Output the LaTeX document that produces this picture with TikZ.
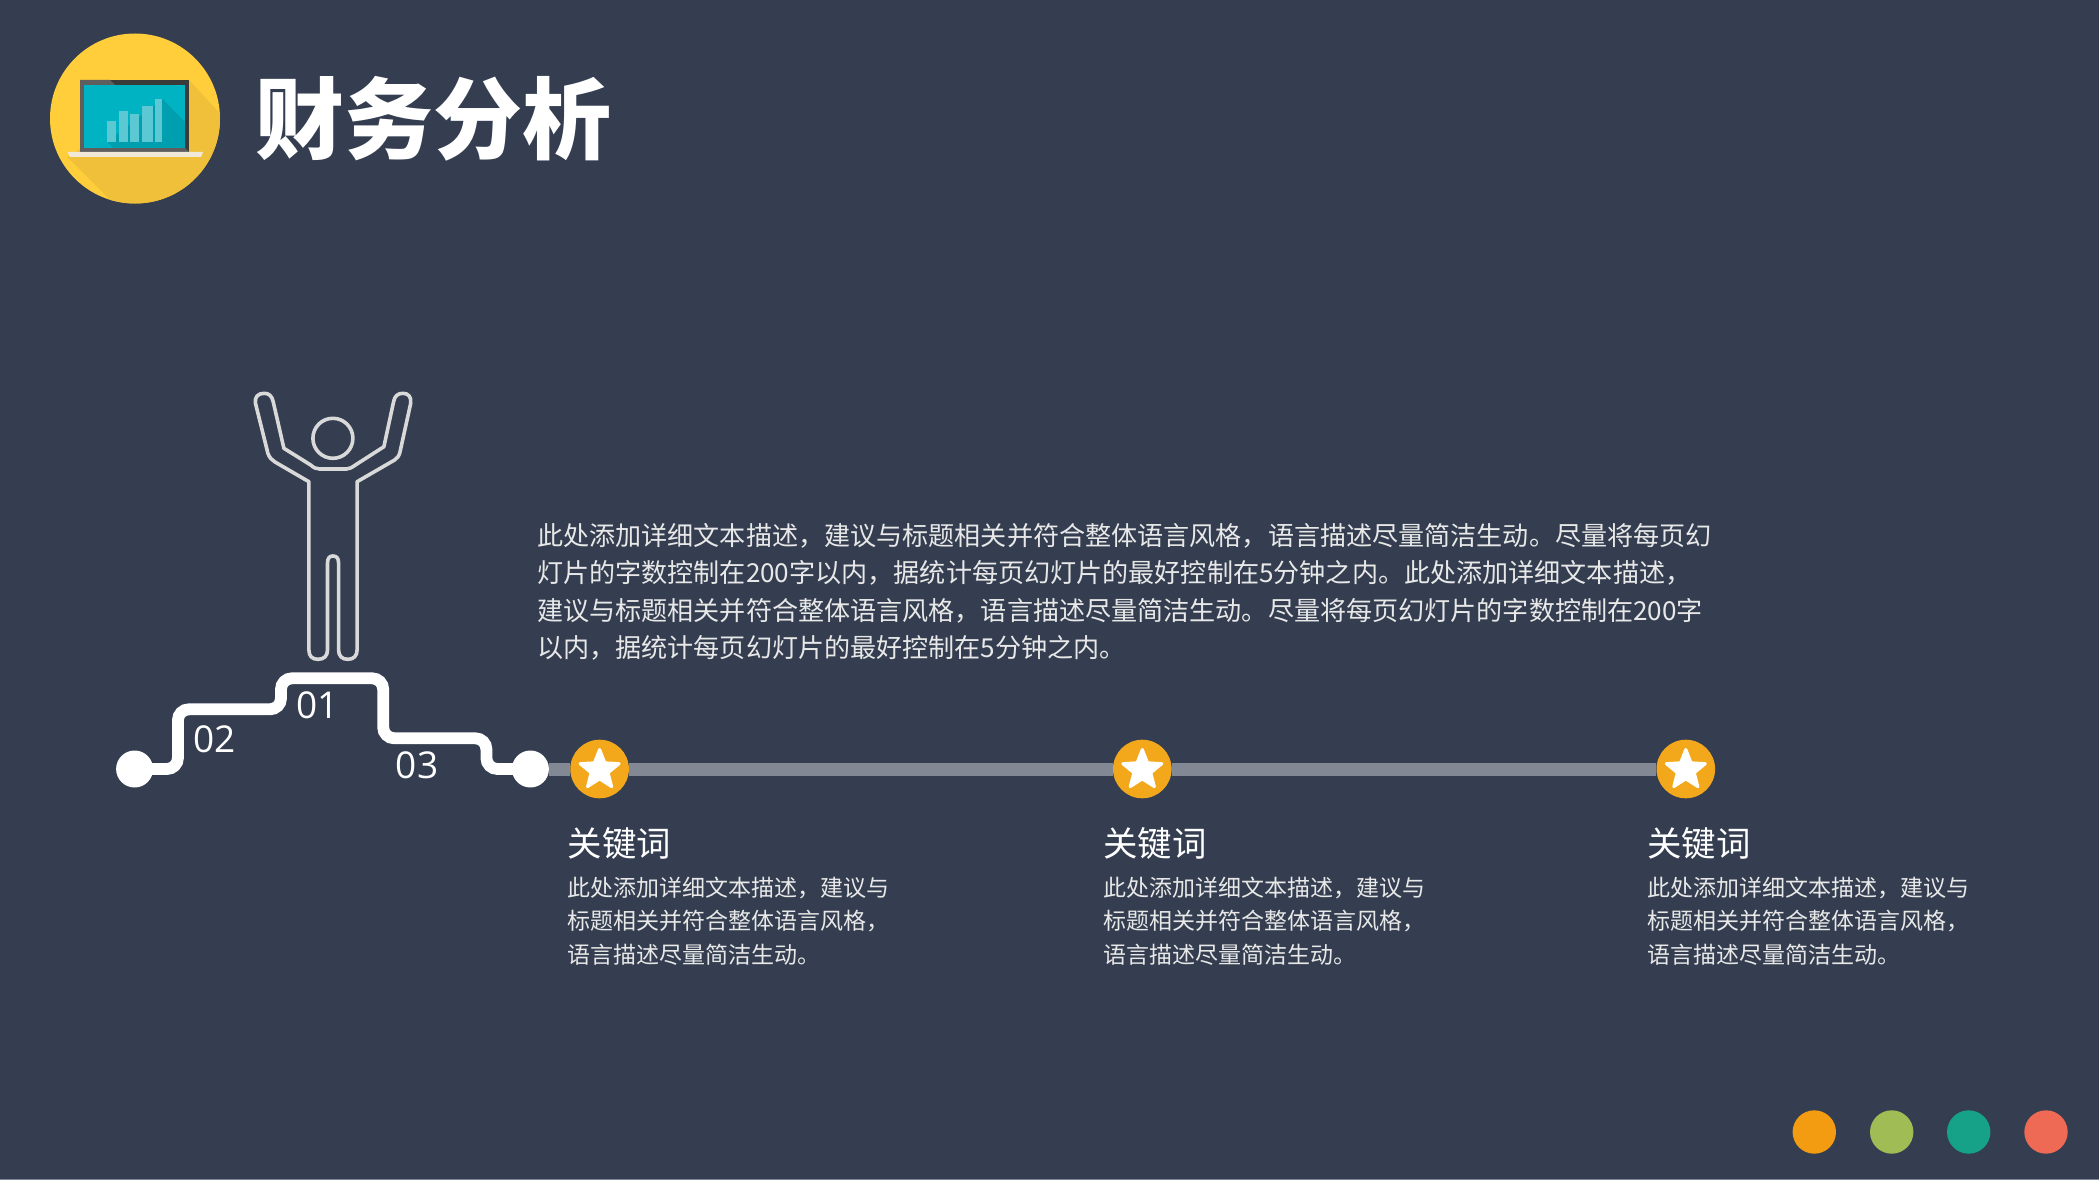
\documentclass[tikz,border=0pt]{standalone}
\usepackage{fontspec}
\usetikzlibrary{shapes.geometric}
\setmainfont{Open Sans}
\newfontfamily\cjk{Noto Sans CJK SC}
\definecolor{slidebg}{HTML}{343E50}
\definecolor{coinorange}{HTML}{F3A81C}
\definecolor{barline}{HTML}{828995}
\definecolor{bodygray}{HTML}{E8E8E8}
\definecolor{iconyellow}{HTML}{FFCE3A}
\definecolor{iconshade}{HTML}{F0C03A}
\definecolor{framedark}{HTML}{3A3A3A}
\definecolor{framegray}{HTML}{5E5E5E}
\definecolor{screenteal}{HTML}{00B3C3}
\definecolor{screenshade}{HTML}{009FAF}
\definecolor{chartbar}{HTML}{5CC8D4}
\definecolor{laptopbase}{HTML}{F1E9D8}
\definecolor{dotorange}{HTML}{F39C12}
\definecolor{dotgreen}{HTML}{A0BC55}
\definecolor{dotteal}{HTML}{16A288}
\definecolor{dotred}{HTML}{EE6A55}
\definecolor{bottomedge}{HTML}{7F8794}
\tikzset{
  coin/.style={circle, fill=coinorange, minimum size=58.6pt, inner sep=0pt},
  coinstar/.style={star, star points=5, star point ratio=2.3, fill=white, draw=white, line width=3pt, line join=round, minimum size=41pt, inner sep=0pt},
  stairdot/.style={circle, fill=white, minimum size=37pt, inner sep=0pt},
  stairnum/.style={text=white, font=\fontsize{37}{37}\selectfont, inner sep=0pt},
  keyword/.style={anchor=west, text=white, inner sep=0pt, font=\cjk\fontsize{34.4}{40}\selectfont},
  keytext/.style={anchor=north west, text=bodygray, inner sep=0pt, align=left, font=\cjk\fontsize{23}{33.3}\selectfont},
  pagedot/.style={circle, minimum size=43.4pt, inner sep=0pt},
  figureline/.style={draw=black!15, line width=3.6pt, line join=round}
}
\begin{document}
\begin{tikzpicture}[x=1pt, y=-1pt]
\useasboundingbox (0,0) rectangle (2099,1180);
\fill[slidebg] (0,0) rectangle (2099,1180);
\fill[bottomedge] (0,1178.5) rectangle (2099,1180);
% 图标
\fill[iconyellow] (135,118.5) circle (85);
\begin{scope}
\clip (135,118.5) circle (85);
\fill[iconshade] (189,80) -- (240,135) -- (240,230) -- (140,230) -- (67.5,157) -- cycle;
\end{scope}
\fill[framedark] (80,80) rectangle (189,152);
\fill[framegray] (80,80) -- (110,80) -- (115,85) -- (84,85) -- (84,148) -- (185,148) -- (189,152) -- (80,152) -- cycle;
\fill[screenteal] (84,85) rectangle (185,148);
\fill[screenshade] (162.4,99) -- (185,122) -- (185,148) -- (113,148) -- (107,142) -- cycle;
\fill[chartbar] (107,121) rectangle (116,141.7);
\fill[chartbar] (119,111) rectangle (128,141.7);
\fill[chartbar] (130,114) rectangle (139,141.7);
\fill[chartbar] (142,106) rectangle (152.5,141.7);
\fill[chartbar] (154.5,99) rectangle (162.4,141.7);
\fill[laptopbase] (67.5,152) -- (203,152) -- (201,157) -- (70,157) -- cycle;
% 标题
\node[anchor=west, text=white, inner sep=0pt, font=\cjk\bfseries\fontsize{89}{89}\selectfont] (title) at (255,119) {财务分析};
% 小人
\draw[figureline] (332.9,438.3) circle (20);
\draw[figureline] (264.3,393.3) .. controls (258,393.3) and (254.5,397) .. (255.4,403)
  -- (267.9,453.3) .. controls (269.5,458) and (272,460) .. (275,462)
  -- (308.9,481.7) -- (308.9,650) .. controls (308.9,656) and (312,659.3) .. (318,659.3)
  .. controls (324,659.3) and (327.5,656) .. (327.5,650)
  -- (327.5,563.3) .. controls (327.5,558) and (329.5,556) .. (332.9,556)
  .. controls (336.5,556) and (338.6,558) .. (338.6,563.3)
  -- (338.6,650) .. controls (338.6,656) and (342,659.3) .. (347.8,659.3)
  .. controls (353.5,659.3) and (357.1,656) .. (357.1,650)
  -- (357.1,481.7) -- (394.6,460) .. controls (397.5,458) and (399,456) .. (400,452)
  -- (410.7,403.3) .. controls (411.5,397) and (408.5,393.3) .. (402.9,393.3)
  .. controls (398,393.3) and (394.5,396) .. (393.6,401.7)
  -- (383.9,446.7) -- (355.4,465) .. controls (352,467.5) and (349,469) .. (346.4,469)
  -- (319.6,469) .. controls (316,469) and (313.5,467.5) .. (310.7,465)
  -- (283.9,448.3) -- (273.2,401.7) .. controls (272,396) and (269,393.3) .. (264.3,393.3) -- cycle;
% 台阶
\node[stairdot] (stairleft) at (134.6,769) {};
\node[stairdot] (stairright) at (530.4,769) {};
\draw[white, line width=11.8pt, rounded corners=11pt] (stairleft.center) -- (177.9,769) -- (177.9,709.3) -- (281,709.3) -- (281,678.3) -- (383.2,678.3) -- (383.2,738.3) -- (486.4,738.3) -- (486.4,769) -- (stairright.center);
\node[stairnum] (num01) at (317.9,705.5) {01};
\node[stairnum] (num02) at (214.3,739) {02};
\node[stairnum] (num03) at (417,765.5) {03};
% 时间线
\node[coin] (coin1) at (599.6,769) {};
\node[coin] (coin2) at (1142.3,769) {};
\node[coin] (coin3) at (1685.8,769) {};
\draw[barline, line width=13pt] (stairright) -- (coin1);
\draw[barline, line width=13pt] (coin1) -- (coin2);
\draw[barline, line width=13pt] (coin2) -- (coin3);
\node[coinstar] (star1) at (599.6,770) {};
\node[coinstar] (star2) at (1142.3,770) {};
\node[coinstar] (star3) at (1685.8,770) {};
% 正文
\node[anchor=north west, text=bodygray, inner sep=0pt, align=left, font=\cjk\fontsize{26.1}{37.5}\selectfont] (maintext) at (537,523) {此处添加详细文本描述，建议与标题相关并符合整体语言风格，语言描述尽量简洁生动。尽量将每页幻\\灯片的字数控制在200字以内，据统计每页幻灯片的最好控制在5分钟之内。此处添加详细文本描述，\\建议与标题相关并符合整体语言风格，语言描述尽量简洁生动。尽量将每页幻灯片的字数控制在200字\\以内，据统计每页幻灯片的最好控制在5分钟之内。};
% 关键词
\node[keyword] (key1) at (567.5,843) {关键词};
\node[keyword] (key2) at (1103,843) {关键词};
\node[keyword] (key3) at (1647,843) {关键词};
\node[keytext] (keytext1) at (567.5,877) {此处添加详细文本描述，建议与\\标题相关并符合整体语言风格，\\语言描述尽量简洁生动。};
\node[keytext] (keytext2) at (1103,877) {此处添加详细文本描述，建议与\\标题相关并符合整体语言风格，\\语言描述尽量简洁生动。};
\node[keytext] (keytext3) at (1647,877) {此处添加详细文本描述，建议与\\标题相关并符合整体语言风格，\\语言描述尽量简洁生动。};
% 页脚圆点
\node[pagedot, fill=dotorange] (dot1) at (1814.3,1132) {};
\node[pagedot, fill=dotgreen] (dot2) at (1891.7,1132) {};
\node[pagedot, fill=dotteal] (dot3) at (1968.7,1132) {};
\node[pagedot, fill=dotred] (dot4) at (2046,1132) {};
\end{tikzpicture}
\end{document}
